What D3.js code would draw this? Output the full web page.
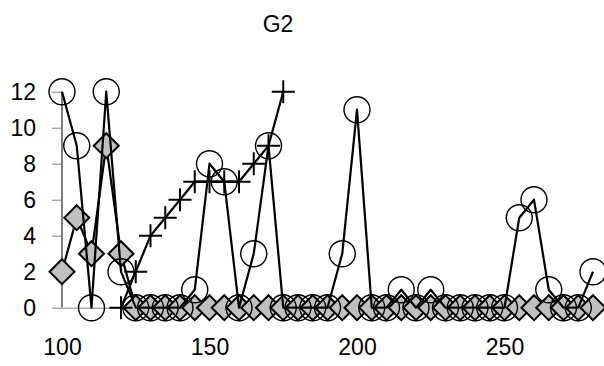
<!DOCTYPE html>
<html>
<head>
<meta charset="utf-8">
<script src="https://cdn.jsdelivr.net/npm/d3@7"></script>
<style>
  body { margin: 0; background: #fff; }
  text { font-family: "Liberation Sans", Arial, sans-serif; }
</style>
</head>
<body>
<div id="chart"></div>
<script>
const title = 'G2';
const xVals = [100, 105, 110, 115, 120, 125, 130, 135, 140, 145, 150, 155, 160, 165, 170, 175, 180, 185, 190,
  195, 200, 205, 210, 215, 220, 225, 230, 235, 240, 245, 250, 255, 260, 265, 270, 275, 280];
const diamondVals = [2, 5, 3, 9, 3, 0, 0, 0, 0, 0, 0, 0, 0, 0, 0, 0, 0, 0, 0,
  0, 0, 0, 0, 0, 0, 0, 0, 0, 0, 0, 0, 0, 0, 0, 0, 0, 0];
const circleVals = [12, 9, 0, 12, 2, 0, 0, 0, 0, 1, 8, 7, 0, 3, 9, 0, 0, 0, 0,
  3, 11, 0, 0, 1, 0, 1, 0, 0, 0, 0, 0, 5, 6, 1, 0, 0, 2];
const plusVals = [null, null, null, null, 0, 2, 4, 5, 6, 7, 7, 7, 7, 8, 9, 12, null, null, null,
  null, null, null, null, null, null, null, null, null, null, null, null, null, null, null, null, null, null];
const xTicks = [100, 150, 200, 250];
const yTicks = [0, 2, 4, 6, 8, 10, 12];

const w = 604, h = 366;
const svg = d3.select('#chart').append('svg').attr('width', w).attr('height', h);

const x = d3.scaleLinear().domain([100, 300]).range([62, 652]);
const y = d3.scaleLinear().domain([0, 12]).range([307.7, 91.7]);

svg.append('text')
  .attr('x', 278).attr('y', 32)
  .attr('text-anchor', 'middle')
  .attr('font-size', 23)
  .text(title);

// y axis
const yAxis = svg.append('g').attr('transform', 'translate(62,0)')
  .call(d3.axisLeft(y).tickValues(yTicks).tickSize(10).tickPadding(16).tickFormat(d3.format('d')));
yAxis.select('.domain').attr('stroke', '#000').attr('d', `M0,${y(12)}V${y(0)}`);
yAxis.selectAll('.tick line').attr('stroke', '#808080');
yAxis.selectAll('.tick text').attr('font-size', 23).attr('fill', '#000')
  .attr('font-family', '"Liberation Sans", Arial, sans-serif');

// x axis (runs past the right edge, as in the original)
const xAxis = svg.append('g').attr('transform', `translate(0,${y(0)})`)
  .call(d3.axisBottom(x).tickValues(xTicks).tickSize(0).tickPadding(31));
xAxis.select('.domain').attr('stroke', '#808080');
xAxis.selectAll('.tick text').attr('font-size', 23).attr('fill', '#000')
  .attr('font-family', '"Liberation Sans", Arial, sans-serif');

const line = d3.line()
  .defined(d => d[1] != null)
  .x(d => x(d[0]))
  .y(d => y(d[1]));

function pts(vals) {
  return xVals.map((v, i) => [v, vals[i]]);
}

// diamonds
const dPts = pts(diamondVals);
svg.append('path').attr('d', line(dPts)).attr('fill', 'none')
  .attr('stroke', '#000').attr('stroke-width', 2.2).attr('stroke-linejoin', 'round');
svg.append('g').selectAll('path').data(dPts.filter(d => d[1] != null)).enter().append('path')
  .attr('d', 'M0,-12.5L12.5,0L0,12.5L-12.5,0Z')
  .attr('transform', d => `translate(${x(d[0])},${y(d[1])})`)
  .attr('fill', '#c0c0c0').attr('stroke', '#000').attr('stroke-width', 2);

// circles
const cPts = pts(circleVals);
svg.append('path').attr('d', line(cPts)).attr('fill', 'none')
  .attr('stroke', '#000').attr('stroke-width', 2.2).attr('stroke-linejoin', 'round');
svg.append('g').selectAll('circle').data(cPts.filter(d => d[1] != null)).enter().append('circle')
  .attr('cx', d => x(d[0])).attr('cy', d => y(d[1])).attr('r', 13)
  .attr('fill', 'none').attr('stroke', '#000').attr('stroke-width', 1.4);

// plus
const pPts = pts(plusVals);
svg.append('path').attr('d', line(pPts)).attr('fill', 'none')
  .attr('stroke', '#000').attr('stroke-width', 2.2).attr('stroke-linejoin', 'round');
svg.append('g').selectAll('path').data(pPts.filter(d => d[1] != null)).enter().append('path')
  .attr('d', 'M-11.5,0H11.5M0,-11.5V11.5')
  .attr('transform', d => `translate(${x(d[0])},${y(d[1])})`)
  .attr('fill', 'none').attr('stroke', '#000').attr('stroke-width', 2);
</script>
</body>
</html>
